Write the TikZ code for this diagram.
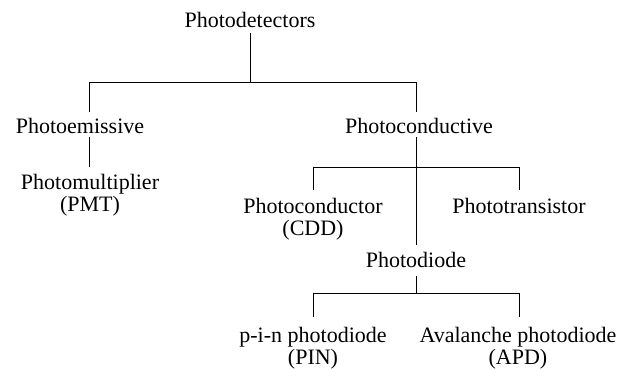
\documentclass[tikz,border=0pt]{standalone}
\usepackage{fontspec}
\setmainfont{Liberation Serif}
\begin{document}
\begin{tikzpicture}[x=1pt,y=-1pt,
  lbl/.style={inner sep=0pt, anchor=base, font=\fontsize{22}{22}\selectfont, align=center},
  conn/.style={line width=1pt, black}]
\useasboundingbox (0,0) rectangle (621,369);
% nodes (multi-line nodes: base = baseline of last line)
\node[lbl] (pd) at (250,28) {Photodetectors};
\node[lbl] (pe) at (80,133) {Photoemissive};
\node[lbl] (pc) at (419,133) {Photoconductive};
\node[lbl] (pm) at (90,211) {Photomultiplier\\(PMT)};
\node[lbl] (pcd) at (313,235) {Photoconductor\\(CDD)};
\node[lbl] (ptr) at (519,213) {Phototransistor};
\node[lbl] (pdi) at (416,267) {Photodiode};
\node[lbl] (pin) at (313,364) {p-i-n photodiode\\(PIN)};
\node[lbl] (apd) at (518,364) {Avalanche photodiode\\(APD)};
% junctions
\coordinate (j1) at (250,82);
\coordinate (j1l) at (89,82);
\coordinate (j1r) at (416,82);
\coordinate (j2) at (416,167);
\coordinate (j2l) at (313,167);
\coordinate (j2r) at (519,167);
\coordinate (j3) at (416,293);
\coordinate (j3l) at (313,293);
\coordinate (j3r) at (519,293);
% connectors
\draw[conn] ([yshift=-5pt]pd.base) -- (j1);
\draw[conn] (j1l) -- (j1r);
\draw[conn] (j1l) -- (89,112) coordinate (pe-in);
\draw[conn] (j1r) -- (416,112) coordinate (pc-in);
\draw[conn] (89,137) coordinate (pe-out) -- (89,167) coordinate (pm-in);
\draw[conn] (416,137) coordinate (pc-out) -- (416,245) coordinate (pdi-in);
\draw[conn] (j2l) -- (j2r);
\draw[conn] (j2l) -- (313,190) coordinate (pcd-in);
\draw[conn] (j2r) -- (519,190) coordinate (ptr-in);
\draw[conn] (416,276) coordinate (pdi-out) -- (j3);
\draw[conn] (j3l) -- (j3r);
\draw[conn] (j3l) -- (313,317) coordinate (pin-in);
\draw[conn] (j3r) -- (519,317) coordinate (apd-in);
\end{tikzpicture}
\end{document}
